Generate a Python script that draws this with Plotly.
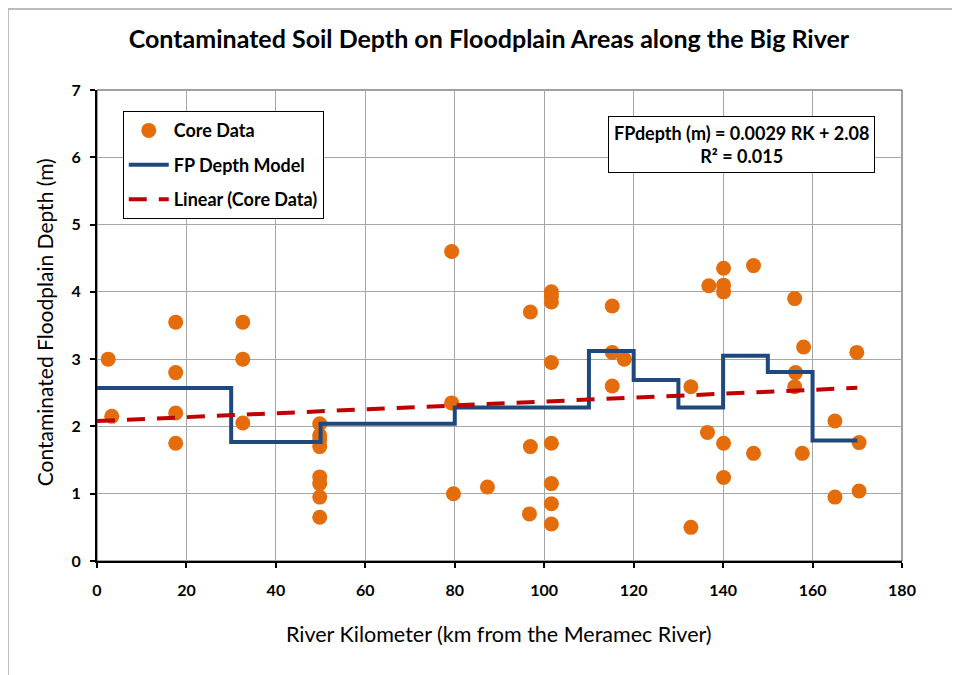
import plotly.graph_objects as go

# core samples: river km and contaminated depth (m)
core_km = [2.5, 3.3,
           17.6, 17.6, 17.6, 17.6,
           32.6, 32.6, 32.6,
           49.8, 49.8, 49.8, 49.8, 49.8, 49.8, 49.8, 49.8,
           79.3, 79.3, 79.7, 87.3,
           96.9, 96.9, 96.7,
           101.6, 101.6, 101.6, 101.6, 101.6, 101.6, 101.6, 101.6,
           115.2, 115.2, 117.9, 115.2,
           132.8, 132.8, 136.8, 136.5,
           140.1, 140.1, 140.1, 140.1, 140.1,
           146.8, 146.8,
           156.0, 158.0, 156.2, 156.0, 157.7,
           165.0, 165.0, 169.9, 170.4, 170.4]
core_depth = [3.0, 2.15,
              3.55, 2.8, 2.2, 1.75,
              3.55, 3.0, 2.05,
              2.04, 1.87, 1.8, 1.7, 1.25, 1.15, 0.95, 0.65,
              4.6, 2.35, 1.0, 1.1,
              3.7, 1.7, 0.7,
              4.0, 3.93, 3.85, 2.95, 1.75, 1.15, 0.85, 0.55,
              3.79, 3.1, 3.0, 2.6,
              2.59, 0.5, 4.09, 1.91,
              4.35, 4.1, 4.0, 1.75, 1.24,
              4.39, 1.6,
              3.9, 3.18, 2.8, 2.59, 1.6,
              2.08, 0.95, 3.1, 1.76, 1.04]

# floodplain depth model (step breaks and segment depths)
model_km = [0, 30, 50, 80, 110, 120, 130, 140, 150, 160, 170]
model_depth = [2.57, 1.77, 2.04, 2.28, 3.12, 2.69, 2.28, 3.05, 2.81, 1.79, 1.79]

# Excel linear trendline
trend_slope = 0.0029
trend_intercept = 2.08
trend_km = [0, 170]
trend_depth = [trend_intercept + trend_slope * k for k in trend_km]

font_family = "Lato, 'Open Sans', sans-serif"

fig = go.Figure()
fig.add_trace(go.Scatter(
    x=core_km, y=core_depth, mode="markers", name="Core Data",
    marker=dict(color="#E46C0A", size=15), legendgroup="a"
))
fig.add_trace(go.Scatter(
    x=model_km, y=model_depth, mode="lines", name="FP Depth Model",
    line=dict(color="#1F497D", width=4, shape="hv"), legendgroup="b"
))
fig.add_trace(go.Scatter(
    x=trend_km, y=trend_depth, mode="lines", name="Linear (Core Data)",
    line=dict(color="#C00000", width=4, dash="18px,12px"), legendgroup="c"
))

axis_common = dict(
    showgrid=True, gridcolor="#a6a6a6", gridwidth=1,
    showline=True, linecolor="black", linewidth=2,
    ticks="outside", ticklen=5, tickwidth=2, tickcolor="black",
    zeroline=False,
    tickfont=dict(family=font_family, size=16, color="black", weight="bold"),
)

fig.update_xaxes(range=[0, 180], dtick=20, ticklabelstandoff=9, **axis_common)
fig.update_yaxes(range=[0, 7], dtick=1, ticklabelstandoff=6, **axis_common)

# the page body adds an 8px offset, margins are set so the plot lands at
# x 97..902 and y 90..561 in the window
fig.update_layout(
    width=960, height=675,
    margin=dict(l=89, r=66, t=82, b=122),
    paper_bgcolor="white", plot_bgcolor="white",
    title=dict(text="Contaminated Soil Depth on Floodplain Areas along the Big River",
               x=0.501, xanchor="center", xref="container", y=0.953, yanchor="middle",
               font=dict(family=font_family, size=25, color="black", weight="bold")),
    legend=dict(x=0.032, y=0.955, xanchor="left", yanchor="top",
                bgcolor="white", bordercolor="black", borderwidth=1,
                tracegroupgap=8, itemwidth=40,
                font=dict(family=font_family, size=18, color="black", weight="bold")),
    annotations=[
        dict(text="<b>FPdepth (m) = 0.0029 RK + 2.08<br>R² = 0.015</b>",
             x=0.801, y=0.885, xref="paper", yref="paper", showarrow=False,
             xanchor="center", yanchor="middle",
             font=dict(family=font_family, size=18, color="black"),
             bgcolor="white", bordercolor="black", borderwidth=1, borderpad=5),
        dict(text="River Kilometer (km from the Meramec River)",
             x=0.4994, y=-0.155, xref="paper", yref="paper", showarrow=False,
             xanchor="center", yanchor="middle",
             font=dict(family=font_family, size=21.5, color="black")),
        dict(text="Contaminated Floodplain Depth (m)", textangle=-90,
             x=-0.0658, y=0.507, xref="paper", yref="paper", showarrow=False,
             xanchor="center", yanchor="middle",
             font=dict(family=font_family, size=21, color="black")),
    ],
    shapes=[
        dict(type="rect", xref="paper", yref="paper", x0=0, y0=0, x1=1, y1=1,
             line=dict(color="#404040", width=1), layer="below"),
        dict(type="rect", xref="paper", yref="paper", x0=-0.1106, y0=-0.26,
             x1=1.1, y1=1.172, line=dict(color="#a6a6a6", width=1.5)),
    ],
)

fig.write_html("out.html")
